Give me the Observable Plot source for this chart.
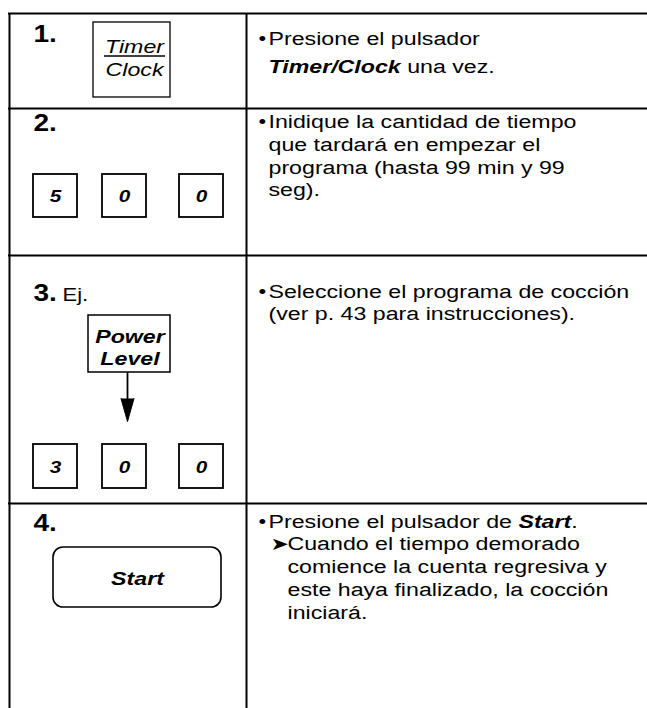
<!DOCTYPE html>
<html><head><meta charset="utf-8">
<script src="https://cdn.jsdelivr.net/npm/d3@7"></script>
<script src="https://cdn.jsdelivr.net/npm/@observablehq/plot@0.6"></script>
<style>html,body{margin:0;padding:0;background:#fff}</style>
</head><body>
<script>
// ---- content ----
const steps = ["1.", "2.", "3.", "4."];
const timerKey = ["Timer", "Clock"];
const digitsStep2 = ["5", "0", "0"];
const exampleLabel = "Ej.";
const powerKey = ["Power", "Level"];
const digitsStep3 = ["3", "0", "0"];
const startKey = "Start";
const instructions = [
  ["Presione el pulsador", "*Timer/Clock* una vez."],
  ["Inidique la cantidad de tiempo", "que tardará en empezar el", "programa (hasta 99 min y 99", "seg)."],
  ["Seleccione el programa de cocción", "(ver p. 43 para instrucciones)."],
  ["Presione el pulsador de *Start*."]
];
const notes = [[], [], [], ["Cuando el tiempo demorado", "comience la cuenta regresiva y", "este haya finalizado, la cocción", "iniciará."]];

// ---- layout ----
const W = 647, H = 708, SX = 1.22;
const rowTop = [13, 108, 255, 503];
const colX = [9, 246];
const stepBase = [41, 130, 300, 530];
const textBase = [44, 127.5, 297, 527];
const rowLh = [28, 22.8, 22.8, 22.8];
const keyLefts = [33, 102, 179], keyW = 44;
const keyRows = [{digits: digitsStep2, top: 174, h: 43}, {digits: digitsStep3, top: 444, h: 44}];

const keyRects = [], keyTexts = [];
keyRows.forEach(r => r.digits.forEach((d, i) => {
  keyRects.push({x1: keyLefts[i], x2: keyLefts[i] + keyW, y1: r.top, y2: r.top + r.h});
  keyTexts.push({x: keyLefts[i] + keyW / 2, y: r.top + r.h / 2 + 6, t: d});
}));

const descLines = [], bullets = [], subArrows = [];
instructions.forEach((lines, r) => {
  const lh = rowLh[r];
  bullets.push({x: 258, y: textBase[r]});
  lines.forEach((t, i) => descLines.push({x: 268, y: textBase[r] + i * lh, t}));
  const start = lines.length;
  notes[r].forEach((t, i) => {
    const y = textBase[r] + (start + i) * lh;
    if (i === 0) subArrows.push({x: 270, y});
    descLines.push({x: 287, y, t});
  });
});

const timerBox = {x1: 93, x2: 170, y1: 22, y2: 97};
const powerBox = {x1: 88, x2: 170, y1: 315, y2: 372};
const startBox = {x1: 53, x2: 221, y1: 547, y2: 607};
const arrowX = 127;

const svg = Plot.plot({
  width: W, height: H,
  margin: 0,
  x: {domain: [0, W], range: [0, W], axis: null},
  y: {domain: [0, H], range: [0, H], axis: null},
  style: {fontFamily: "'Liberation Sans', Arial, sans-serif", fontSize: "19px", background: "white", color: "black"},
  marks: [
    // table lines
    Plot.ruleY(rowTop, {y: d => d, x1: 8, x2: W, stroke: "black", strokeWidth: 2}),
    Plot.ruleX(colX, {x: d => d, y1: rowTop[0], y2: H, stroke: "black", strokeWidth: 2}),
    // buttons
    Plot.rect([timerBox], {x1: "x1", x2: "x2", y1: "y1", y2: "y2", fill: "white", stroke: "black", strokeWidth: 1.3}),
    Plot.rect([powerBox], {x1: "x1", x2: "x2", y1: "y1", y2: "y2", fill: "white", stroke: "black", strokeWidth: 1.5}),
    Plot.rect([startBox], {x1: "x1", x2: "x2", y1: "y1", y2: "y2", fill: "white", stroke: "black", strokeWidth: 1.6, rx: 10}),
    Plot.rect(keyRects, {x1: "x1", x2: "x2", y1: "y1", y2: "y2", fill: "white", stroke: "black", strokeWidth: 1.8}),
    // Timer underline
    Plot.ruleY([timerBox.y1 + 33.5], {y: d => d, x1: 104, x2: 165, stroke: "black", strokeWidth: 1.5}),
    // arrow
    Plot.ruleX([arrowX], {x: d => d, y1: powerBox.y2, y2: 402, stroke: "black", strokeWidth: 1.8}),
    Plot.line([[arrowX - 6.5, 398], [arrowX, 421], [arrowX + 6.5, 398]], {fill: "black", stroke: "black", strokeWidth: 1}),
    // step numbers
    Plot.text(steps, {x: 33, y: (d, i) => stepBase[i], text: d => d, textAnchor: "start", lineAnchor: "bottom", fontWeight: "bold", fontSize: 23}),
    Plot.text([exampleLabel], {x: 62, y: stepBase[2], text: d => d, textAnchor: "start", lineAnchor: "bottom", fontSize: 18}),
    // button labels
    Plot.text(timerKey, {x: 134, y: (d, i) => [52, 75][i], text: d => d, textAnchor: "middle", lineAnchor: "bottom", fontStyle: "italic", fontSize: 19}),
    Plot.text(powerKey, {x: 129.5, y: (d, i) => [342, 364][i], text: d => d, textAnchor: "middle", lineAnchor: "bottom", fontStyle: "italic", fontWeight: "bold", fontSize: 19}),
    Plot.text([startKey], {x: 137, y: 584, text: d => d, textAnchor: "middle", lineAnchor: "bottom", fontStyle: "italic", fontWeight: "bold", fontSize: 19}),
    Plot.text(keyTexts, {x: "x", y: "y", text: "t", textAnchor: "middle", lineAnchor: "bottom", fontStyle: "italic", fontWeight: "bold", fontSize: 17}),
    // descriptions
    Plot.text(bullets, {x: "x", y: "y", text: () => "•", textAnchor: "start", lineAnchor: "bottom", fontSize: 18}),
    Plot.text(subArrows, {x: "x", y: "y", text: () => "➤", textAnchor: "start", lineAnchor: "bottom", fontSize: 18, fontFamily: "DejaVu Sans"}),
    Plot.text(descLines, {x: "x", y: "y", text: "t", textAnchor: "start", lineAnchor: "bottom", fontSize: 19})
  ]
});

// horizontal stretch of the print + inline bold-italic segments
d3.select(svg).selectAll("text").each(function () {
  const tr = this.getAttribute("transform") || "";
  this.setAttribute("transform", tr + ` scale(${SX},1)`);
  const s = this.textContent;
  if (s.includes("*")) {
    const parts = s.split("*");
    this.textContent = "";
    parts.forEach((p, i) => {
      if (!p) return;
      const ts = document.createElementNS("http://www.w3.org/2000/svg", "tspan");
      if (i % 2 === 1) { ts.setAttribute("font-weight", "bold"); ts.setAttribute("font-style", "italic"); }
      ts.textContent = p;
      this.appendChild(ts);
    });
  }
});
document.body.appendChild(svg);
</script>
</body></html>
